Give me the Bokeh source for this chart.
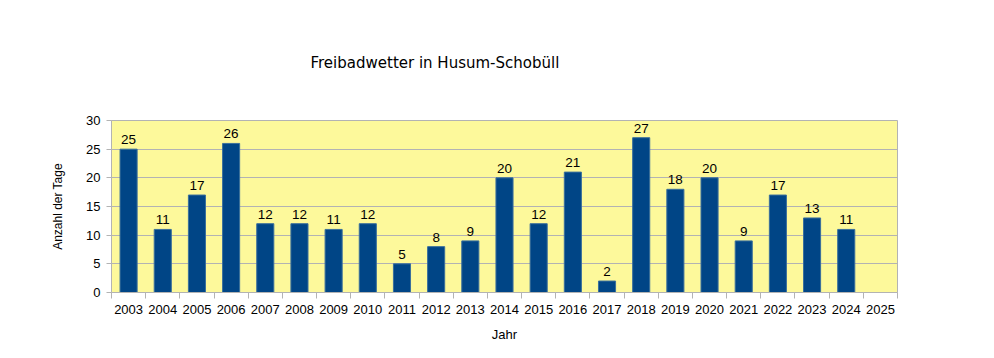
from bokeh.plotting import figure
from bokeh.models import ColumnDataSource, FixedTicker, Range1d, Title
from bokeh.core.properties import value
from bokeh.embed import file_html
from bokeh.resources import INLINE

years = list(range(2003, 2026))
days_years = list(range(2003, 2025))
days = [25, 11, 17, 26, 12, 12, 11, 12, 5, 8, 9, 20, 12, 21, 2, 27, 18, 20, 9, 17, 13, 11]
y_ticks = [0, 5, 10, 15, 20, 25, 30]

src = ColumnDataSource(dict(x=days_years, y=days, lbl=[str(d) for d in days]))

p = figure(width=978, height=344, output_backend="svg", toolbar_location=None,
           x_range=Range1d(years[0] - 0.5, years[-1] + 0.5), y_range=Range1d(0, 30),
           min_border_left=111, min_border_right=81, min_border_top=120, min_border_bottom=48)
p.background_fill_color = "#fdf99b"
p.border_fill_color = "white"
p.outline_line_color = "#b3b3b3"

p.vbar(x="x", top="y", width=0.5, source=src, fill_color="#004586", line_color="#3a6f9c", line_width=1)
p.text(x="x", y="y", text="lbl", source=src, text_align="center", text_baseline="bottom",
       y_offset=-5, text_font=value("Liberation Sans"), text_font_size="13.5px", text_color="black")

title = Title(text="Freibadwetter in Husum-Schobüll", align="left", offset=199,
              text_font="DejaVu Sans", text_font_size="15px", text_font_style="normal",
              text_color="black", standoff=98)
p.add_layout(title, "above")

xa = p.xaxis[0]
xa.ticker = FixedTicker(ticks=years, minor_ticks=[y - 0.5 for y in years] + [years[-1] + 0.5])
xa.major_label_overrides = {y: str(y) for y in years}
xa.major_tick_line_color = None
xa.minor_tick_line_color = "#b3b3b3"
xa.minor_tick_in = 0
xa.minor_tick_out = 6
xa.axis_line_color = "#b3b3b3"
xa.major_label_text_font = "Liberation Sans"
xa.major_label_text_font_size = "13px"
xa.major_label_text_color = "black"
xa.major_label_standoff = 6
xa.axis_label = "Jahr"
xa.axis_label_text_font = "Liberation Sans"
xa.axis_label_text_font_size = "13px"
xa.axis_label_text_font_style = "normal"
xa.axis_label_text_color = "black"
xa.axis_label_standoff = 10

ya = p.yaxis[0]
ya.ticker = FixedTicker(ticks=y_ticks)
ya.major_tick_line_color = "#b3b3b3"
ya.major_tick_in = 0
ya.major_tick_out = 5
ya.minor_tick_line_color = None
ya.axis_line_color = "#b3b3b3"
ya.major_label_text_font = "Liberation Sans"
ya.major_label_text_font_size = "13px"
ya.major_label_text_color = "black"
ya.major_label_standoff = 6
ya.axis_label = "Anzahl der Tage"
ya.axis_label_text_font = "Liberation Sans"
ya.axis_label_text_font_size = "12px"
ya.axis_label_text_font_style = "normal"
ya.axis_label_text_color = "black"
ya.axis_label_standoff = 18

p.xgrid.grid_line_color = None
p.ygrid.grid_line_color = "#b3b3b3"

open("out.html", "w").write(file_html(p, INLINE))
